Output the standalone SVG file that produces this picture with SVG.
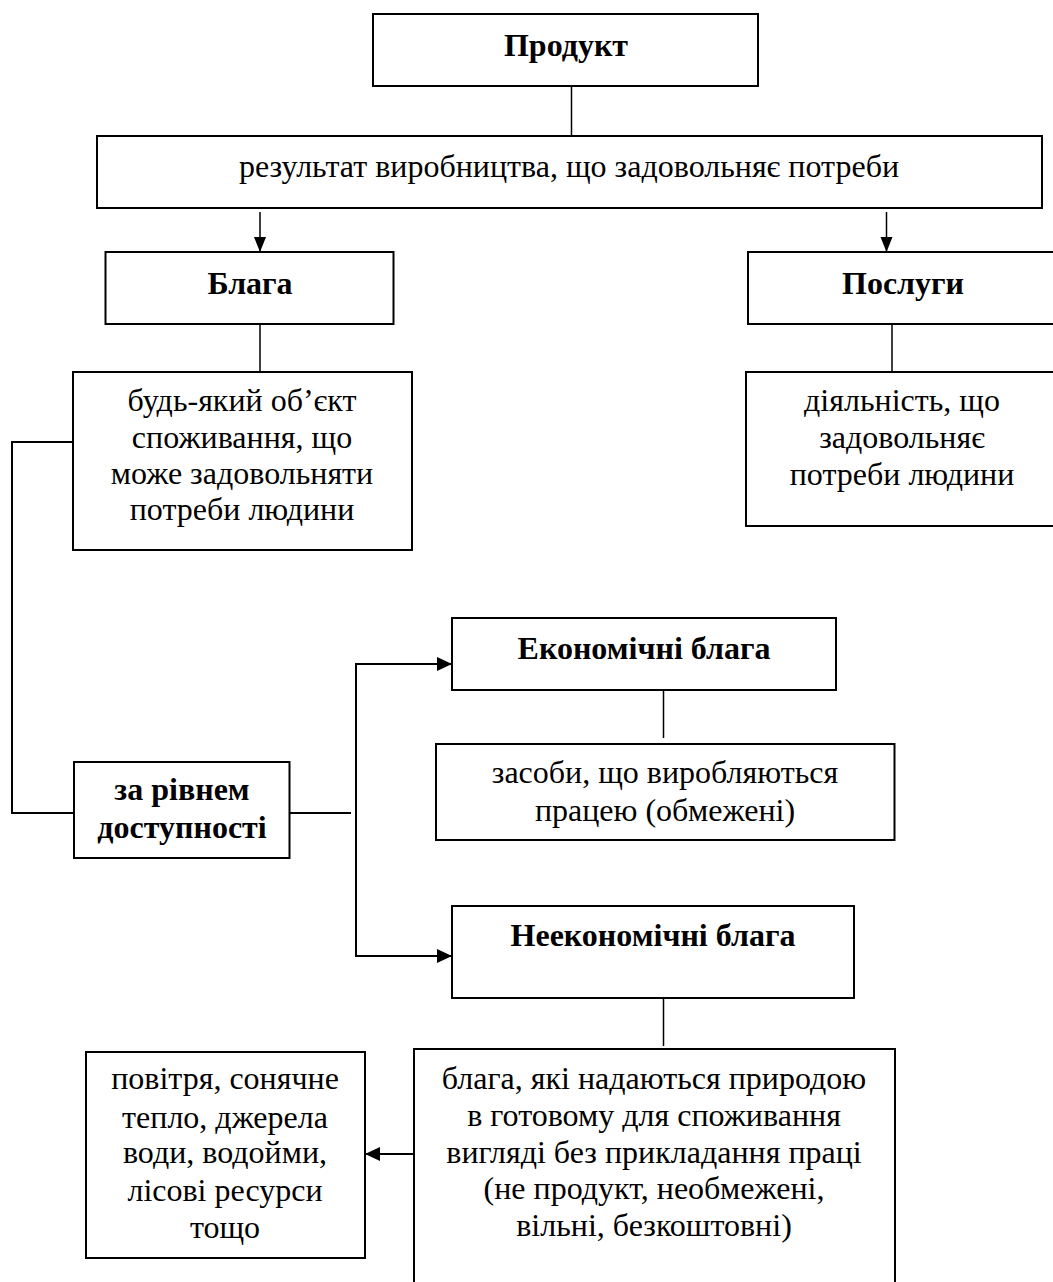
<svg xmlns="http://www.w3.org/2000/svg" width="1053" height="1282" viewBox="0 0 1053 1282">
<style>
.box{fill:#fff;stroke:#000;stroke-width:2}
.t{font-family:"Liberation Serif","Times New Roman",serif;font-size:32px;text-anchor:middle;fill:#000}
.b{font-weight:bold}
.ln{stroke:#000;stroke-width:1.5;fill:none}
.ln2{stroke:#000;stroke-width:2;fill:none}
</style>
<defs>
<marker id="ah" markerUnits="userSpaceOnUse" markerWidth="16" markerHeight="16" viewBox="0 0 16 16" refX="15" refY="8" orient="auto">
<path d="M0,1 L15,8 L0,15 Z" fill="#000"/>
</marker>
<marker id="ahs" markerUnits="userSpaceOnUse" markerWidth="16" markerHeight="14" viewBox="0 0 16 14" refX="15" refY="7" orient="auto">
<path d="M0,1 L15,7 L0,13 Z" fill="#000"/>
</marker>
</defs>
<rect width="1053" height="1282" fill="#fff"/>
<g id="connectors">
<line class="ln" x1="571.5" y1="86" x2="571.5" y2="136"/>
<line class="ln" x1="260" y1="212" x2="260" y2="252" marker-end="url(#ahs)"/>
<line class="ln" x1="886.5" y1="212" x2="886.5" y2="252" marker-end="url(#ahs)"/>
<line class="ln" x1="260" y1="324" x2="260" y2="372"/>
<line class="ln" x1="892" y1="324" x2="892" y2="372"/>
<polyline class="ln2" points="73,442 12,442 12,813 74,813"/>
<line class="ln2" x1="289.5" y1="813" x2="351" y2="813"/>
<path class="ln2" d="M356,813 V664 H452" marker-end="url(#ah)"/>
<path class="ln2" d="M356,813 V956 H452" marker-end="url(#ah)"/>
<line class="ln" x1="663.5" y1="690" x2="663.5" y2="738"/>
<line class="ln" x1="663.5" y1="998" x2="663.5" y2="1046"/>
<line class="ln2" x1="413" y1="1154" x2="365" y2="1154" marker-end="url(#ah)"/>
</g>
<g id="product"><rect class="box" x="373" y="14" width="385" height="72"/><text class="t b" x="566" y="56">Продукт</text></g>
<g id="result"><rect class="box" x="97" y="136" width="945" height="72"/><text class="t" x="569" y="177">результат виробництва, що задовольняє потреби</text></g>
<g id="goods"><rect class="box" x="105.5" y="252" width="288" height="72"/><text class="t b" x="250" y="294">Блага</text></g>
<g id="services"><rect class="box" x="748" y="252" width="320" height="72"/><text class="t b" x="903" y="294">Послуги</text></g>
<g id="goods-desc"><rect class="box" x="73" y="372" width="339" height="178"/>
<text class="t" x="242" y="411">будь-який об’єкт</text>
<text class="t" x="242" y="448">споживання, що</text>
<text class="t" x="242" y="484">може задовольняти</text>
<text class="t" x="242" y="520">потреби людини</text></g>
<g id="services-desc"><rect class="box" x="746" y="372" width="320" height="154"/>
<text class="t" x="902" y="411">діяльність, що</text>
<text class="t" x="902" y="448">задовольняє</text>
<text class="t" x="902" y="485">потреби людини</text></g>
<g id="economic"><rect class="box" x="452" y="618" width="384" height="72"/><text class="t b" x="644" y="659">Економічні блага</text></g>
<g id="economic-desc"><rect class="box" x="436" y="744" width="458.5" height="96"/>
<text class="t" x="665" y="783">засоби, що виробляються</text>
<text class="t" x="665" y="821">працею (обмежені)</text></g>
<g id="access"><rect class="box" x="74" y="762" width="215.5" height="96"/>
<text class="t b" x="182" y="800">за рівнем</text>
<text class="t b" x="182" y="838">доступності</text></g>
<g id="noneconomic"><rect class="box" x="452" y="906" width="402" height="92"/><text class="t b" x="653" y="946">Неекономічні блага</text></g>
<g id="noneconomic-desc"><rect class="box" x="414" y="1049" width="481" height="260"/>
<text class="t" x="654" y="1089">блага, які надаються природою</text>
<text class="t" x="654" y="1126">в готовому для споживання</text>
<text class="t" x="654" y="1163">вигляді без прикладання праці</text>
<text class="t" x="654" y="1199">(не продукт, необмежені,</text>
<text class="t" x="654" y="1236">вільні, безкоштовні)</text></g>
<g id="examples"><rect class="box" x="86" y="1052" width="279" height="206"/>
<text class="t" x="225" y="1089">повітря, сонячне</text>
<text class="t" x="225" y="1128">тепло, джерела</text>
<text class="t" x="225" y="1163">води, водойми,</text>
<text class="t" x="225" y="1201">лісові ресурси</text>
<text class="t" x="225" y="1238">тощо</text></g>
</svg>
